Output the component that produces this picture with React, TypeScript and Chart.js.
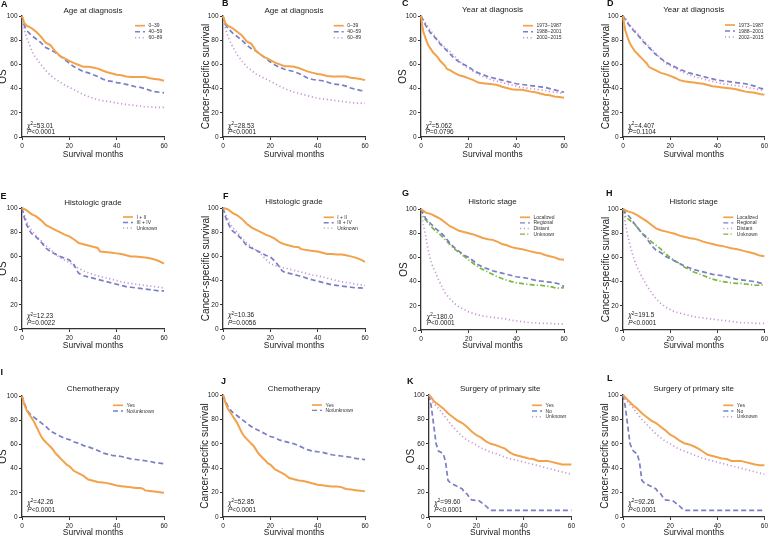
import React, { useEffect, useRef } from "react";
import { Chart, registerables } from "chart.js";

Chart.register(...registerables);

type Pt = [number, number];

const FONT = "'Liberation Sans', Arial, Helvetica, sans-serif";

// ---- axis ticks ----
const MONTH_TICKS = [0, 20, 40, 60];
const SURVIVAL_TICKS = [0, 20, 40, 60, 80, 100];

// ---- A: OS by age ----
const OS_AGE_0_39: Pt[] = [[0,100],[1,94],[2,92],[4,90],[6,87],[8,83],[10,78],[12,76],[14,71],[16,67],[18,65],[20,63],[22,61],[24,59.5],[26,58],[28,58],[30,57.5],[32,56.5],[34,55],[36,53.5],[38,52.5],[40,51.5],[42,51],[44,50],[46,49.5],[48,49.5],[50,49.5],[52,49.5],[54,48.5],[56,48],[58,47.5],[60,46.5]];
const OS_AGE_40_59: Pt[] = [[0,100],[1,92],[2,88],[4,84],[6,81],[8,78],[10,74],[12,72],[14,70],[16,67],[18,64],[20,61],[22,58],[24,56],[26,54],[28,53],[30,51.5],[32,50],[34,48],[36,46.5],[38,46],[40,45],[42,44.5],[44,43.5],[46,42.5],[48,41.5],[50,41],[52,40],[54,38.5],[56,37.5],[58,37],[60,36.5]];
const OS_AGE_60_89: Pt[] = [[0,100],[1,88],[2,82],[3,77],[4,72],[5,68],[6,65],[8,60],[10,55],[12,51],[14,48],[16,45.5],[18,43],[20,41],[22,39],[24,37],[26,35],[28,33.5],[30,32],[32,31],[34,30],[36,29.5],[38,29],[40,28],[42,27.5],[44,27],[46,26.5],[48,26],[50,25.5],[52,25],[54,25],[56,24.5],[58,24.5],[60,24.5]];

// ---- B: CSS by age ----
const CSS_AGE_0_39: Pt[] = [[0,100],[1,94],[2,92],[4,90],[6,87],[8,84],[10,79],[12,77],[14,71],[16,68],[18,65.5],[20,63.5],[22,61.5],[24,60],[26,58.5],[28,58.5],[30,58],[32,57],[34,55.5],[36,54],[38,53],[40,52],[42,51.5],[44,50.5],[46,50],[48,50],[50,50],[52,50],[54,49],[56,48.5],[58,48],[60,47]];
const CSS_AGE_40_59: Pt[] = [[0,100],[1,93],[2,90],[4,86],[6,83],[8,80],[10,76],[12,73],[14,71],[16,68],[18,65],[20,62],[22,59.5],[24,57.5],[26,56],[28,55],[30,54],[32,52.5],[34,50.5],[36,48.5],[38,47.5],[40,47],[42,46.5],[44,45.5],[46,44],[48,43.5],[50,43],[52,42],[54,40.5],[56,39.5],[58,38.5],[60,38]];
const CSS_AGE_60_89: Pt[] = [[0,100],[1,90],[2,84],[3,79],[4,75],[6,68],[8,63],[10,58],[12,55],[14,52],[16,50],[18,48],[20,46],[22,44],[24,42],[26,40],[28,38.5],[30,37],[32,36],[34,35],[36,34],[38,33],[40,32],[42,31.5],[44,31],[46,30.5],[48,30],[50,29.5],[52,29],[54,28.5],[56,28],[58,28],[60,28]];

// ---- C: OS by year ----
const OS_YEAR_1973_1987: Pt[] = [[0,100],[0.5,92],[1,87],[2,81],[3,76],[4,73],[5,70],[6,68],[7,66],[8,63],[10,59],[11,56],[12,55.5],[14,53],[16,51],[18,50],[20,48.5],[22,47],[24,45],[26,44.5],[28,44],[30,43.5],[32,43],[34,41.5],[36,40.5],[38,39.5],[40,39],[42,39],[44,38.5],[46,37.5],[48,37],[50,36],[52,35],[54,34.5],[56,33.5],[58,33],[60,32.5]];
const OS_YEAR_1988_2001: Pt[] = [[0,100],[1,96],[2,92],[4,86],[6,82],[8,77],[10,73],[12,69],[14,65],[16,62],[18,60],[20,58],[22,55],[24,53],[26,51.5],[28,50],[30,49],[32,48],[34,47],[36,46],[38,45],[40,44],[42,43.5],[44,43],[46,42.5],[48,42],[50,41.5],[52,41],[54,40],[56,39],[58,38],[60,37]];
const OS_YEAR_2002_2015: Pt[] = [[0,100],[1,97],[2,94],[4,88],[6,83],[8,78],[10,74],[12,71],[14,67],[16,63],[18,59],[20,57],[22,54],[24,52],[26,50],[28,48.5],[30,47],[32,46],[34,45],[36,44],[38,43],[40,42],[42,41],[44,40.5],[46,40],[48,39.5],[50,39],[52,38.5],[54,37.5],[56,37],[58,36.5],[60,36]];

// ---- D: CSS by year ----
const CSS_YEAR_1973_1987: Pt[] = [[0,100],[0.5,93],[1,88],[2,82],[3,77],[4,74],[5,71],[6,69],[7,67],[8,65],[10,61],[11,58],[12,57],[14,55],[16,53],[18,52],[20,50.5],[22,49],[24,47],[26,46],[28,45.5],[30,45],[32,44.5],[34,44],[36,43],[38,42],[40,41.5],[42,41],[44,40.5],[46,40],[48,39.5],[50,38.5],[52,37.5],[54,37],[56,36.5],[58,35.5],[60,35]];
const CSS_YEAR_1988_2001: Pt[] = [[0,100],[1,97],[2,94],[4,89],[6,85],[8,80],[10,76],[12,72],[14,68],[16,65],[18,62],[20,60],[22,58],[24,56],[26,54.5],[28,53],[30,52],[32,51],[34,50],[36,49],[38,48],[40,47],[42,46.5],[44,46],[46,45.5],[48,45],[50,44.5],[52,44],[54,43],[56,42],[58,40.5],[60,39.5]];
const CSS_YEAR_2002_2015: Pt[] = [[0,100],[1,98],[2,95],[4,90],[6,86],[8,81],[10,77],[12,73],[14,69],[16,65],[18,61],[20,59],[22,57],[24,55],[26,53],[28,51.5],[30,50],[32,49],[34,48],[36,47],[38,46],[40,45],[42,44],[44,43.5],[46,43],[48,42.5],[50,42],[52,41.5],[54,40.5],[56,40],[58,39],[60,38.5]];

// ---- E: OS by grade ----
const OS_GRADE_I_II: Pt[] = [[0,100],[2,98],[4,95],[6,93],[8,90],[10,86],[12,84],[14,82],[16,80],[18,78],[20,76.5],[22,74],[24,71],[26,70],[28,69],[30,68],[32,67],[33,64],[36,63.5],[38,63],[40,62.5],[42,62],[44,61],[46,60],[48,60],[50,59.5],[52,59],[54,58.5],[56,57.5],[58,56],[60,54]];
const OS_GRADE_III_IV: Pt[] = [[0,100],[1,92],[2,86],[3,82],[4,79],[6,76],[8,72],[10,67],[12,64],[14,62],[16,60],[18,58.5],[20,57],[22,53],[23,49],[24,46],[26,44],[28,43],[30,42],[32,41],[34,40],[36,39],[38,38],[40,37],[42,36],[44,35],[46,34.5],[48,34],[50,33.5],[52,33],[54,32.5],[56,32],[58,31.5],[60,31.5]];
const OS_GRADE_UNK: Pt[] = [[0,100],[1,94],[2,89],[3,85],[4,82],[6,77],[8,73],[10,69],[12,66],[14,62],[16,59],[18,57],[20,55],[22,52],[24,50],[26,48],[28,46.5],[30,45],[32,44],[34,43],[36,42],[38,41],[40,40],[42,39],[44,38],[46,37.5],[48,37],[50,36.5],[52,36],[54,35.5],[56,35],[58,34.5],[60,34]];

// ---- F: CSS by grade ----
const CSS_GRADE_I_II: Pt[] = [[0,100],[2,99],[4,96],[6,94],[8,91],[10,87],[12,84],[14,82],[16,80],[18,78],[20,76.5],[22,74.5],[24,71.5],[26,70],[28,69],[30,68],[32,67.5],[33,66],[36,65],[38,64.5],[40,64],[42,63],[44,62],[46,62],[48,61.5],[50,61.5],[52,61],[54,60],[56,59],[58,57.5],[60,55.5]];
const CSS_GRADE_III_IV: Pt[] = [[0,100],[1,93],[2,88],[3,84],[4,81],[6,78],[8,74],[10,69],[12,67],[14,65],[16,63],[18,61],[20,59.5],[22,56],[24,51],[25,48],[26,47],[28,46],[30,45],[32,44],[34,43],[36,41.5],[38,40.5],[40,39.5],[42,38.5],[44,37.5],[46,36.5],[48,36],[50,35.5],[52,35],[54,34.5],[56,34],[58,34],[60,33.5]];
const CSS_GRADE_UNK: Pt[] = [[0,100],[1,95],[2,91],[3,87],[4,84],[6,80],[8,75],[10,71],[12,68],[14,65],[16,62],[18,58],[20,54],[22,52.5],[24,51.5],[26,50.5],[28,49.5],[30,48.5],[32,47.5],[34,46.5],[36,45.5],[38,44.5],[40,44],[42,43],[44,42],[46,41],[48,40],[50,39],[52,38.5],[54,38],[56,37],[58,36.5],[60,36]];

// ---- G: OS by stage ----
const OS_STAGE_LOCAL: Pt[] = [[0,100],[2,97],[4,96],[6,94],[8,92],[10,89],[12,86],[14,84],[16,82],[18,81],[20,80],[22,79],[24,77.5],[26,76],[28,75],[30,74.5],[32,73],[34,71],[36,70],[38,68.5],[40,67.5],[42,67],[44,66],[46,65],[48,64],[50,63.5],[52,62],[54,61],[56,60],[58,58.5],[60,58]];
const OS_STAGE_REGIONAL: Pt[] = [[0,100],[1,96],[2,92],[4,88],[6,84],[8,81],[10,77],[12,72],[14,68],[16,65],[18,62],[20,60],[22,57],[24,54],[26,52],[28,50.5],[30,49],[32,48],[34,47],[36,46],[38,45],[40,44],[42,43.5],[44,43],[46,42],[48,41],[50,40.5],[52,40],[54,39.5],[56,39],[58,38],[60,36]];
const OS_STAGE_DISTANT: Pt[] = [[0,100],[0.5,93],[1,87],[2,77],[3,66],[4,58],[5,52],[6,48],[7,43],[8,39],[10,31],[12,26],[14,22],[16,19],[18,17],[20,15],[22,13.5],[24,12.5],[26,11.5],[28,11],[30,10.5],[32,10],[34,9.5],[36,9],[38,8],[40,7.5],[42,7],[44,6.5],[46,6],[48,6],[50,5.5],[52,5.5],[54,5.5],[56,5],[58,5],[60,5]];
const OS_STAGE_UNK: Pt[] = [[0,100],[1,93],[2,91],[4,86],[6,82],[8,79],[10,75],[12,71],[14,67],[16,64],[18,61],[20,58],[22,55],[24,52],[26,50],[28,48],[30,46],[32,44],[34,42.5],[36,41],[38,40],[40,39],[42,38.5],[44,38],[46,37.5],[48,37],[50,37],[52,36.5],[54,36],[56,35],[58,34.5],[60,35]];

// ---- H: CSS by stage ----
const CSS_STAGE_LOCAL: Pt[] = [[0,100],[2,98],[4,97],[6,95],[8,92.5],[10,90],[12,87],[14,84],[16,82.5],[18,81.5],[20,80.5],[22,79.5],[24,78],[26,77],[28,76],[30,75.5],[32,74.5],[34,73],[36,72],[38,71],[40,70],[42,69.5],[44,68.5],[46,67.5],[48,67],[50,66],[52,65],[54,64],[56,63],[58,61.5],[60,61]];
const CSS_STAGE_REGIONAL: Pt[] = [[0,100],[1,97],[2,95],[3,93],[4,90],[6,85],[8,80],[10,76],[12,70],[14,66],[16,64],[18,61],[20,59],[22,57],[24,55],[26,53],[28,51.5],[30,50],[32,49],[34,48],[36,47],[38,46],[40,45.5],[42,45],[44,44],[46,43],[48,42],[50,41.5],[52,41],[54,40.5],[56,40],[58,39],[60,38]];
const CSS_STAGE_DISTANT: Pt[] = [[0,100],[0.5,95],[1,88],[2,78],[3,70],[4,63],[5,57],[6,52],[8,44],[10,37],[12,31],[14,26],[16,22],[18,19],[20,17],[22,15],[24,14],[26,13],[28,12],[30,11],[32,10.5],[34,10],[36,9.5],[38,9],[40,8.5],[42,8],[44,7.5],[46,7],[48,6.5],[50,6],[52,6],[54,6],[56,5.5],[58,5.5],[60,5.5]];
const CSS_STAGE_UNK: Pt[] = [[0,100],[1,94],[2,92],[4,89],[6,85],[8,80],[10,77],[12,73],[14,70],[16,67],[18,63],[20,60],[22,57],[24,55],[26,52],[28,50],[30,48],[32,46.5],[34,45],[36,43.5],[38,42],[40,41],[42,40],[44,39.5],[46,39],[48,38.5],[50,38.5],[52,38],[54,37.5],[56,37],[58,37],[60,37.5]];

// ---- I: OS by chemotherapy ----
const OS_CHEMO_YES: Pt[] = [[0,100],[1,93],[2,88],[3,85],[4,82],[5,79],[6,75],[7,71],[8,67],[9,64],[10,62],[11,60],[12,58],[13,56],[14,53],[15,51],[16,49],[17,47],[18,45],[19,43],[20,42],[21,40],[22,38],[24,36],[26,34],[28,31],[30,30],[32,29],[34,28.5],[36,28],[38,27],[40,26],[42,25.5],[44,25],[46,24.5],[48,24],[50,24],[51,23.5],[52,22],[54,21.5],[56,21],[58,20.5],[60,20]];
const OS_CHEMO_NO: Pt[] = [[0,100],[1,94],[2,89],[3,86],[4,84],[6,81],[8,78],[10,75],[12,71],[14,69],[16,67],[18,65],[20,64],[22,62],[24,61],[26,59],[28,58],[30,56.5],[32,55],[34,53],[36,52],[38,51],[40,50.5],[42,50],[44,49],[46,48],[48,47.5],[50,47],[52,46.5],[54,46],[56,45],[58,44.5],[60,44]];

// ---- J: CSS by chemotherapy ----
const CSS_CHEMO_YES: Pt[] = [[0,100],[1,94],[2,89],[3,86],[4,83],[5,80],[6,77],[7,73],[8,69],[9,66],[10,64],[11,62],[12,60],[13,58],[14,55],[15,52],[16,50],[17,48],[18,46],[19,44],[20,43],[21,41],[22,39],[24,37],[26,35],[28,32],[30,31],[32,30],[34,29.5],[36,28.5],[38,27.5],[40,26.5],[42,26],[44,25.5],[46,25],[48,25],[50,24.5],[52,23],[54,22.5],[56,22],[58,21.5],[60,21]];
const CSS_CHEMO_NO: Pt[] = [[0,100],[1,95],[2,91],[3,88],[4,86],[6,83],[8,80],[10,77],[12,74],[14,72],[16,70],[18,68],[20,66],[22,65],[24,63],[26,62],[28,61],[30,60],[32,58.5],[34,56.5],[36,55],[38,54],[40,53.5],[42,53],[44,52],[46,51],[48,50.5],[50,50],[52,49.5],[54,49],[56,48],[58,47.5],[60,47]];

// ---- K: OS by surgery ----
const OS_SURG_YES: Pt[] = [[0,100],[1,98],[2,95],[4,92],[6,89],[8,85],[10,82],[12,79],[14,77],[16,74],[18,70],[20,67],[22,65],[24,62],[26,60],[28,59],[30,57.5],[32,56],[34,53],[36,51],[38,50],[40,49],[42,48],[44,47.5],[46,46],[48,46],[50,46],[52,45],[54,44],[56,43],[58,43],[60,43]];
const OS_SURG_NO: Pt[] = [[0,100],[1,90],[2,75],[3,60],[4,54],[5,53],[6,52],[7,45],[8,30],[9,28],[10,27],[12,25],[14,23],[15,20],[16,19],[17,16],[18,14],[20,13.5],[21,13.5],[22,12],[24,9],[25,7],[26,5.5],[60,5.5]];
const OS_SURG_UNK: Pt[] = [[0,100],[1,96],[2,93],[4,89],[6,84],[8,79],[10,74],[12,70],[14,66],[16,63],[18,61],[20,59],[22,56.5],[24,55],[26,53],[28,52],[30,50.5],[32,49],[34,48],[36,47],[38,46],[40,45],[42,44],[44,43],[46,42],[48,41],[50,40],[52,39],[54,38],[56,37],[58,36],[60,35]];

// ---- L: CSS by surgery ----
const CSS_SURG_YES: Pt[] = [[0,100],[1,98],[2,96],[4,92],[6,89],[8,85],[10,82],[12,79],[14,77],[16,74],[18,71],[20,67.5],[22,65.5],[24,62.5],[26,60.5],[28,59.5],[30,58],[32,56],[34,53.5],[36,51],[38,50],[40,49],[42,48],[44,47.5],[46,46],[48,46],[50,46],[52,45],[54,44],[56,43],[58,42.5],[60,42.5]];
const CSS_SURG_NO: Pt[] = [[0,100],[1,90],[2,75],[3,60],[4,55],[5,53],[6,52],[7,45],[8,30],[9,28],[10,27],[12,25],[14,23],[15,20],[16,19],[17,16],[18,14],[20,13.5],[21,13.5],[22,12],[24,9],[25,7],[26,5.5],[60,5.5]];
const CSS_SURG_UNK: Pt[] = [[0,100],[1,97],[2,94],[4,90],[6,85],[8,80],[10,76],[12,72],[14,68],[16,65],[18,62],[20,60],[22,57.5],[24,55.5],[26,54],[28,52.5],[30,51],[32,49.5],[34,48],[36,47],[38,46],[40,45],[42,44],[44,43],[46,42],[48,41],[50,40],[52,39],[54,38],[56,37],[58,36],[60,35]];

// ---- styles ----
type StyleKey = "solid" | "dash" | "dot" | "dashdot";
const STYLES: Record<StyleKey, { color: string; dash: number[]; width: number }> = {
  solid: { color: "#F2A24A", dash: [], width: 2 },
  dash: { color: "#7A7EC4", dash: [5, 3], width: 1.7 },
  dot: { color: "#C898D4", dash: [1.2, 2.6], width: 1.7 },
  dashdot: { color: "#78B83C", dash: [5, 2.2, 1.2, 2.2], width: 1.7 },
};

interface SeriesCfg { label: string; data: Pt[]; style: StyleKey }
interface PanelCfg {
  letter: string;
  title: string;
  yTitle: string;
  series: SeriesCfg[];
  chi: string;
  pText: string;
  cell: [number, number, number, number];
  plot: [number, number, number, number];
  letterPos: [number, number];
  titleY: number;
  yTitleX: number;
  xTitleY: number;
  legend: [number, number, number];
  stats: [number, number, number];
}

const COLX = [0, 190, 383, 577];
const COLW = [190, 193, 194, 193];
const ROWY = [0, 178, 356];
const ROWH = [178, 178, 180];

const ageS = (a: Pt[], b: Pt[], c: Pt[]): SeriesCfg[] => [
  { label: "0–39", data: a, style: "solid" },
  { label: "40–59", data: b, style: "dash" },
  { label: "60–89", data: c, style: "dot" },
];
const yearS = (a: Pt[], b: Pt[], c: Pt[]): SeriesCfg[] => [
  { label: "1973–1987", data: a, style: "solid" },
  { label: "1988–2001", data: b, style: "dash" },
  { label: "2002–2015", data: c, style: "dot" },
];
const gradeS = (a: Pt[], b: Pt[], c: Pt[]): SeriesCfg[] => [
  { label: "I + II", data: a, style: "solid" },
  { label: "III + IV", data: b, style: "dash" },
  { label: "Unknown", data: c, style: "dot" },
];
const stageS = (a: Pt[], b: Pt[], c: Pt[], d: Pt[]): SeriesCfg[] => [
  { label: "Localized", data: a, style: "solid" },
  { label: "Regional", data: b, style: "dash" },
  { label: "Distant", data: c, style: "dot" },
  { label: "Unknown", data: d, style: "dashdot" },
];
const chemoS = (a: Pt[], b: Pt[]): SeriesCfg[] => [
  { label: "Yes", data: a, style: "solid" },
  { label: "No/unknown", data: b, style: "dash" },
];
const surgS = (a: Pt[], b: Pt[], c: Pt[]): SeriesCfg[] => [
  { label: "Yes", data: a, style: "solid" },
  { label: "No", data: b, style: "dash" },
  { label: "Unknown", data: c, style: "dot" },
];

const cell = (c: number, r: number): [number, number, number, number] => [COLX[c], ROWY[r], COLW[c], ROWH[r]];

const OS = "OS";
const CSS = "Cancer-specific survival";

const PANELS: PanelCfg[] = [
  { letter: "A", title: "Age at diagnosis", yTitle: OS, series: ageS(OS_AGE_0_39, OS_AGE_40_59, OS_AGE_60_89), chi: "53.01", pText: "<0.0001",
    cell: cell(0, 0), plot: [22, 164, 16, 137], letterPos: [1, 6.5], titleY: 10.7, yTitleX: 3, xTitleY: 154.3, legend: [135, 25.7, 6], stats: [27, 126, 132.3] },
  { letter: "B", title: "Age at diagnosis", yTitle: CSS, series: ageS(CSS_AGE_0_39, CSS_AGE_40_59, CSS_AGE_60_89), chi: "28.53", pText: "<0.0001",
    cell: cell(1, 0), plot: [223, 365, 16, 137], letterPos: [222, 5.5], titleY: 10.7, yTitleX: 206, xTitleY: 154.3, legend: [333.7, 25.7, 6], stats: [228, 126, 132.3] },
  { letter: "C", title: "Year at diagnosis", yTitle: OS, series: yearS(OS_YEAR_1973_1987, OS_YEAR_1988_2001, OS_YEAR_2002_2015), chi: "5.062", pText: "=0.0796",
    cell: cell(2, 0), plot: [421, 564, 16, 137], letterPos: [402, 6], titleY: 10, yTitleX: 403.3, xTitleY: 154.3, legend: [523, 25.7, 6], stats: [425.7, 126, 132.3] },
  { letter: "D", title: "Year at diagnosis", yTitle: CSS, series: yearS(CSS_YEAR_1973_1987, CSS_YEAR_1988_2001, CSS_YEAR_2002_2015), chi: "4.407", pText: "=0.1104",
    cell: cell(3, 0), plot: [623, 766, 16, 137], letterPos: [607, 5.5], titleY: 10, yTitleX: 606.7, xTitleY: 154.3, legend: [725, 25, 6], stats: [628.3, 126, 132.3] },
  { letter: "E", title: "Histologic grade", yTitle: OS, series: gradeS(OS_GRADE_I_II, OS_GRADE_III_IV, OS_GRADE_UNK), chi: "12.23", pText: "=0.0022",
    cell: cell(0, 1), plot: [22, 164, 208, 329], letterPos: [0.5, 199], titleY: 202.3, yTitleX: 3.3, xTitleY: 345.7, legend: [123, 217, 5.5], stats: [27, 316.3, 323] },
  { letter: "F", title: "Histologic grade", yTitle: CSS, series: gradeS(CSS_GRADE_I_II, CSS_GRADE_III_IV, CSS_GRADE_UNK), chi: "10.36", pText: "=0.0056",
    cell: cell(1, 1), plot: [223, 365, 208, 329], letterPos: [223, 199], titleY: 201.5, yTitleX: 206, xTitleY: 345.7, legend: [323.7, 217.3, 5.4], stats: [228, 315.5, 323] },
  { letter: "G", title: "Historic stage", yTitle: OS, series: stageS(OS_STAGE_LOCAL, OS_STAGE_REGIONAL, OS_STAGE_DISTANT, OS_STAGE_UNK), chi: "180.0", pText: "<0.0001",
    cell: cell(2, 1), plot: [421, 564, 209, 330], letterPos: [402, 196], titleY: 202, yTitleX: 404, xTitleY: 345.7, legend: [520, 217.3, 5.6], stats: [426.7, 317, 323] },
  { letter: "H", title: "Historic stage", yTitle: CSS, series: stageS(CSS_STAGE_LOCAL, CSS_STAGE_REGIONAL, CSS_STAGE_DISTANT, CSS_STAGE_UNK), chi: "191.5", pText: "<0.0001",
    cell: cell(3, 1), plot: [623, 766, 209, 330], letterPos: [606, 196], titleY: 202, yTitleX: 606.7, xTitleY: 345.7, legend: [723.3, 217.3, 5.6], stats: [628.3, 315.5, 323] },
  { letter: "I", title: "Chemotherapy", yTitle: OS, series: chemoS(OS_CHEMO_YES, OS_CHEMO_NO), chi: "42.26", pText: "<0.0001",
    cell: cell(0, 2), plot: [22, 164, 396, 517], letterPos: [0.5, 375], titleY: 388.7, yTitleX: 2.7, xTitleY: 532.7, legend: [113, 405.3, 5.7], stats: [27.3, 502.7, 510.3] },
  { letter: "J", title: "Chemotherapy", yTitle: CSS, series: chemoS(CSS_CHEMO_YES, CSS_CHEMO_NO), chi: "52.85", pText: "<0.0001",
    cell: cell(1, 2), plot: [223, 365, 395, 517], letterPos: [221, 384], titleY: 388.7, yTitleX: 205.3, xTitleY: 532.7, legend: [312, 405, 5.4], stats: [228, 502.7, 510.3] },
  { letter: "K", title: "Surgery of primary site", yTitle: OS, series: surgS(OS_SURG_YES, OS_SURG_NO, OS_SURG_UNK), chi: "99.60", pText: "<0.0001",
    cell: cell(2, 2), plot: [429, 572, 395, 517], letterPos: [407, 384], titleY: 388.3, yTitleX: 411.7, xTitleY: 532.7, legend: [532, 405.3, 5.7], stats: [434.3, 502.7, 510] },
  { letter: "L", title: "Surgery of primary site", yTitle: CSS, series: surgS(CSS_SURG_YES, CSS_SURG_NO, CSS_SURG_UNK), chi: "92.26", pText: "<0.0001",
    cell: cell(3, 2), plot: [623, 766, 395, 517], letterPos: [607, 381], titleY: 388.3, yTitleX: 605, xTitleY: 532.7, legend: [723.3, 405.3, 5.7], stats: [628.3, 502.7, 510] },
];

const TEXT = "#1a1a1a";
const AXIS = "#333333";

function makeAnnot(p: PanelCfg) {
  return {
    id: "panelAnnot" + p.letter,
    afterDraw(chart: any) {
      const ctx: CanvasRenderingContext2D = chart.ctx;
      const ox = p.cell[0];
      const oy = p.cell[1];
      const ca = chart.chartArea;
      ctx.save();
      ctx.fillStyle = "#111";
      // panel letter
      ctx.font = `bold 9px ${FONT}`;
      ctx.textAlign = "left";
      ctx.textBaseline = "alphabetic";
      ctx.fillText(p.letter, p.letterPos[0] - ox, p.letterPos[1] - oy);
      // panel title
      ctx.fillStyle = TEXT;
      ctx.font = `8px ${FONT}`;
      ctx.textAlign = "center";
      ctx.textBaseline = "middle";
      ctx.fillText(p.title, (ca.left + ca.right) / 2, p.titleY - oy);
      // legend
      const [lx, ly, ls] = p.legend;
      p.series.forEach((s, i) => {
        const st = STYLES[s.style];
        const y = ly + i * ls - oy;
        ctx.save();
        ctx.strokeStyle = st.color;
        ctx.lineWidth = st.width * 0.85;
        ctx.setLineDash(st.dash);
        ctx.beginPath();
        ctx.moveTo(lx - ox, y);
        ctx.lineTo(lx + 10 - ox, y);
        ctx.stroke();
        ctx.restore();
        ctx.font = `5px ${FONT}`;
        ctx.textAlign = "left";
        ctx.textBaseline = "middle";
        ctx.fillStyle = "#333";
        ctx.fillText(s.label, lx + 13.5 - ox, y + 0.2);
      });
      // statistics
      const [sx, y1, y2] = p.stats;
      ctx.textAlign = "left";
      ctx.textBaseline = "middle";
      ctx.fillStyle = TEXT;
      let x = sx - ox;
      ctx.font = `italic 6.5px ${FONT}`;
      ctx.fillText("χ", x, y1 - oy);
      x += ctx.measureText("χ").width;
      ctx.font = `4.5px ${FONT}`;
      ctx.fillText("2", x, y1 - oy - 2);
      x += ctx.measureText("2").width;
      ctx.font = `6.5px ${FONT}`;
      ctx.fillText("=" + p.chi, x, y1 - oy);
      x = sx - ox;
      ctx.font = `italic 6.5px ${FONT}`;
      ctx.fillText("P", x, y2 - oy);
      x += ctx.measureText("P").width;
      ctx.font = `6.5px ${FONT}`;
      ctx.fillText(p.pText, x, y2 - oy);
      ctx.restore();
    },
  };
}

function PanelChart({ cfg }: { cfg: PanelCfg }) {
  const ref = useRef<HTMLCanvasElement | null>(null);
  const [cx, cy, cw, ch] = cfg.cell;
  useEffect(() => {
    if (!ref.current) return;
    const [L, R, T, B] = cfg.plot;
    const yW = L - cx;
    const xH = cy + ch - B;
    const xLh = 8.5 * 0.6;
    const yLh = 10 * 0.6;
    const chart = new Chart(ref.current, {
      type: "line",
      data: {
        datasets: cfg.series.map((s) => ({
          label: s.label,
          data: s.data.map(([x, y]) => ({ x, y })),
          borderColor: STYLES[s.style].color,
          borderWidth: STYLES[s.style].width,
          borderDash: STYLES[s.style].dash,
          pointRadius: 0,
          fill: false,
          tension: 0,
          clip: false as any,
        })),
      },
      options: {
        responsive: false,
        animation: false,
        events: [],
        layout: { padding: { left: 0, top: T - cy, right: cx + cw - R, bottom: 0 } },
        plugins: { legend: { display: false }, title: { display: false }, tooltip: { enabled: false } },
        scales: {
          x: {
            type: "linear",
            min: MONTH_TICKS[0],
            max: MONTH_TICKS[MONTH_TICKS.length - 1],
            ticks: { stepSize: MONTH_TICKS[1] - MONTH_TICKS[0], font: { size: 6.5, family: FONT }, color: TEXT, padding: 2, maxRotation: 0, autoSkip: false },
            grid: { drawOnChartArea: false, drawTicks: true, tickLength: 3, color: AXIS, lineWidth: 1 },
            border: { display: true, color: AXIS, width: 1.3 },
            title: { display: true, text: "Survival months", color: TEXT, font: { size: 8.5, family: FONT, lineHeight: 0.6 }, padding: { top: 0, bottom: Math.max(0, cy + ch - cfg.xTitleY - xLh / 2) } },
            afterFit: (s: any) => { s.height = xH; },
          },
          y: {
            type: "linear",
            min: SURVIVAL_TICKS[0],
            max: SURVIVAL_TICKS[SURVIVAL_TICKS.length - 1],
            ticks: { stepSize: SURVIVAL_TICKS[1] - SURVIVAL_TICKS[0], font: { size: 6.5, family: FONT }, color: TEXT, padding: 1.5, autoSkip: false },
            grid: { drawOnChartArea: false, drawTicks: true, tickLength: 3, color: AXIS, lineWidth: 1 },
            border: { display: true, color: AXIS, width: 1.3 },
            title: { display: true, text: cfg.yTitle, color: TEXT, font: { size: 10, family: FONT, lineHeight: 0.6 }, padding: { top: Math.max(0, cfg.yTitleX - cx - yLh / 2), bottom: 0 } },
            afterFit: (s: any) => { s.width = yW; },
          },
        },
      } as any,
      plugins: [makeAnnot(cfg)],
    });
    return () => chart.destroy();
  }, [cfg]);
  return (
    <canvas
      ref={ref}
      width={cw}
      height={ch}
      style={{ position: "absolute", left: cx, top: cy, width: cw, height: ch }}
    />
  );
}

export default function App() {
  return (
    <div style={{ position: "absolute", left: 0, top: 0, width: 770, height: 536, background: "#fff", overflow: "hidden" }}>
      {PANELS.map((p) => (
        <PanelChart key={p.letter} cfg={p} />
      ))}
    </div>
  );
}
